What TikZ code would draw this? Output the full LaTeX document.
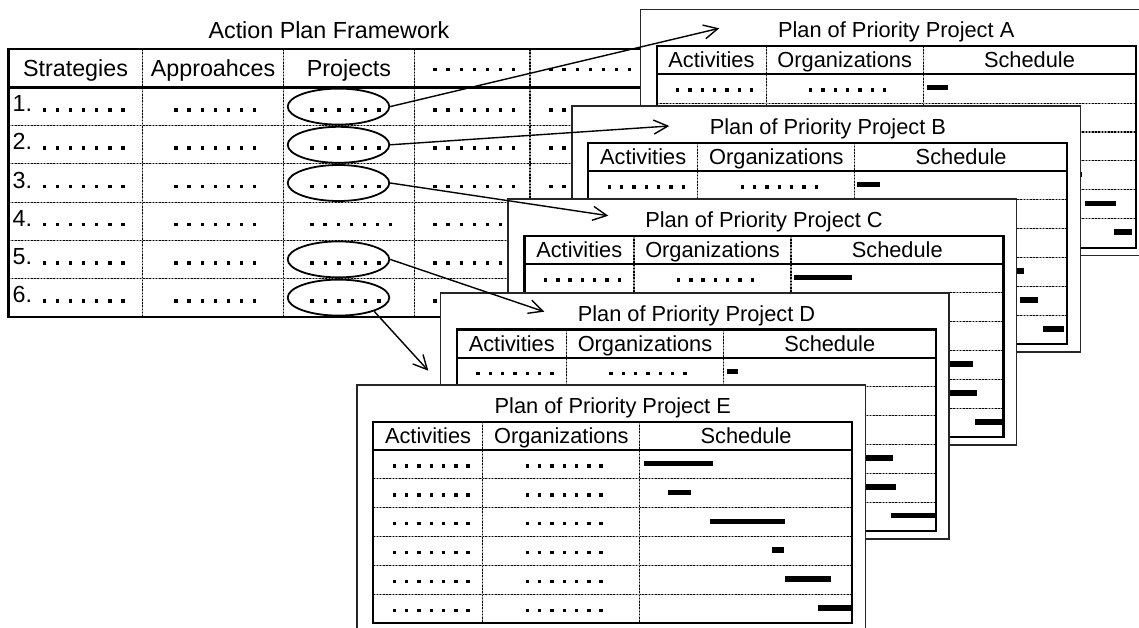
\documentclass[tikz,border=0pt]{standalone}
\usepackage{fontspec}
\setmainfont{Liberation Sans}
\usetikzlibrary{arrows.meta,shapes.geometric}

\tikzset{
  frame/.style={line width=2.1, black},
  gridline/.style={line width=1.1, black, dash pattern=on 1.6 off 1.6,
    preaction={draw, solid, line width=1.1, black!40}},
  cardbox/.style={fill=white, draw=black!85, line width=1.4},
  ring/.style={ellipse, draw, line width=1.8, minimum width=101.6, minimum height=36, inner sep=0},
  link/.style={line width=1.4, -{Straight Barb[length=14pt,width=14pt]}},
  maintxt/.style={font=\fontsize{23.3}{28}\selectfont, inner sep=0},
  cardtxt/.style={font=\fontsize{21.8}{26}\selectfont, inner sep=0},
}

% #1 x start, #2 y centre, #3 count, #4 spacing
\newcommand\dotsrow[4]{%
  \foreach \dd in {1,...,#3}{\fill ({#1+(\dd-1)*#4-1.7},{#2-1.7}) rectangle ++(3.4,3.4);}}

% #1 name, #2 x, #3 y (table top-left), #4 letter, #5 bars r/start/end
\newcommand\plancard[5]{%
  \begin{scope}[shift={(#2,#3)}]
    \draw[cardbox] (-16.5,-36.7) rectangle (492,209.3);
    \node[cardtxt, anchor=base] (t#1) at (239.5,-8.5) {Plan of Priority Project #4};
    \foreach \k in {1,...,5}{\draw[gridline] (0,{28.2+28.9*\k}) -- (479,{28.2+28.9*\k});}
    \draw[gridline] (109.5,0) -- (109.5,201.6);
    \draw[gridline] (266.5,0) -- (266.5,201.6);
    \draw[frame] (0,28.2) -- (479,28.2);
    \draw[frame] (0,0) rectangle (479,201.6);
    \node[cardtxt, anchor=base] (#1act) at (54.75,22) {Activities};
    \node[cardtxt, anchor=base] (#1org) at (188,22) {Organizations};
    \node[cardtxt, anchor=base] (#1sch) at (372.75,22) {Schedule};
    \foreach \k in {1,...,6}{%
      \dotsrow{21}{28.2+28.9*(\k-1)+16}{7}{12.3}
      \dotsrow{154}{28.2+28.9*(\k-1)+16}{7}{12.3}}
    \foreach \r/\a/\b in {#5}{%
      \fill ({266.5+\a},{28.2+28.9*(\r-1)+13.5-2.7}) rectangle ({266.5+\b},{28.2+28.9*(\r-1)+13.5+2.7});}
  \end{scope}}

\begin{document}
\begin{tikzpicture}[x=1pt,y=-1pt]
\useasboundingbox (0,0) rectangle (1139,628);

% ---------- Action plan framework ----------
\node[maintxt] (ftitle) at (329,30) {Action Plan Framework};

\foreach \xx in {142.5,283.5,414.5,530}{\draw[gridline] (\xx,49.3) -- (\xx,316.7);}
\foreach \k in {1,...,5}{\draw[gridline] (8.5,{87.5+38.2*\k}) -- (655,{87.5+38.2*\k});}
\draw[frame] (8.5,87.5) -- (655,87.5);
\draw[frame] (8.5,49.3) rectangle (655,316.7);

\node[maintxt, anchor=base] (hS) at (75.5,76.5) {Strategies};
\node[maintxt, anchor=base] (hA) at (213,76.5) {Approahces};
\node[maintxt, anchor=base] (hP) at (349,76.5) {Projects};
\dotsrow{435}{69.5}{7}{13.1}
\dotsrow{551}{69.5}{7}{13.1}

\foreach \r in {1,...,6}{%
  \node[maintxt, anchor=base west] (n\r) at (12.5,{87.5+38.2*(\r-1)+24.2}) {\r.};
  \dotsrow{44.3}{87.5+38.2*(\r-1)+22.5}{7}{13.1}
  \dotsrow{176}{87.5+38.2*(\r-1)+22.5}{7}{13.1}
  \dotsrow{435}{87.5+38.2*(\r-1)+22.5}{7}{13.1}
  \dotsrow{551}{87.5+38.2*(\r-1)+22.5}{7}{13.1}}
\foreach \r in {1,2,3,5,6}{\dotsrow{312}{87.5+38.2*(\r-1)+22.5}{6}{13.4}}
\dotsrow{312}{87.5+38.2*3+22.5}{7}{13.1}

\node[ring] (e1) at (338.5,106.6) {};
\node[ring] (e2) at (338.5,144.8) {};
\node[ring] (e3) at (338.5,183.0) {};
\node[ring] (e5) at (338.5,259.4) {};
\node[ring] (e6) at (338.5,297.6) {};

% ---------- plan cards ----------
\plancard{A}{656.7}{46}{A}{1/3.6/24.3, 4/140/159, 5/162/192.6, 6/190.8/208.6}
\plancard{B}{588.4}{142.7}{B}{1/2.4/24.9, 4/150/168.7, 5/165/182.7, 6/187.7/209.4}
\plancard{C}{524.5}{235.7}{C}{1/3.1/60.5, 4/130/182.2, 5/140/186.2, 6/183.5/212.2}
\plancard{D}{457}{329.5}{D}{1/3.9/14.6, 4/130/169.6, 5/140/172.6, 6/167.6/212.9}
\plancard{E}{373.3}{421.7}{E}{1/4/72.8, 2/28.4/51, 3/70.5/145, 4/132.5/144.4, 5/144.7/190.7, 6/178/213}

% ---------- arrows ----------
\coordinate (pA) at (719.3,28.3);
\coordinate (pB) at (669.3,126);
\coordinate (pC) at (608.3,215.7);
\coordinate (pD) at (544.3,311.7);
\coordinate (pE) at (428.3,370.7);
\draw[link] (e1.east) -- (pA);
\draw[link] (e2.east) -- (pB);
\draw[link] (e3.east) -- (pC);
\draw[link] (e5.east) -- (pD);
\draw[link] (e6.-21) -- (pE);
\end{tikzpicture}
\end{document}
